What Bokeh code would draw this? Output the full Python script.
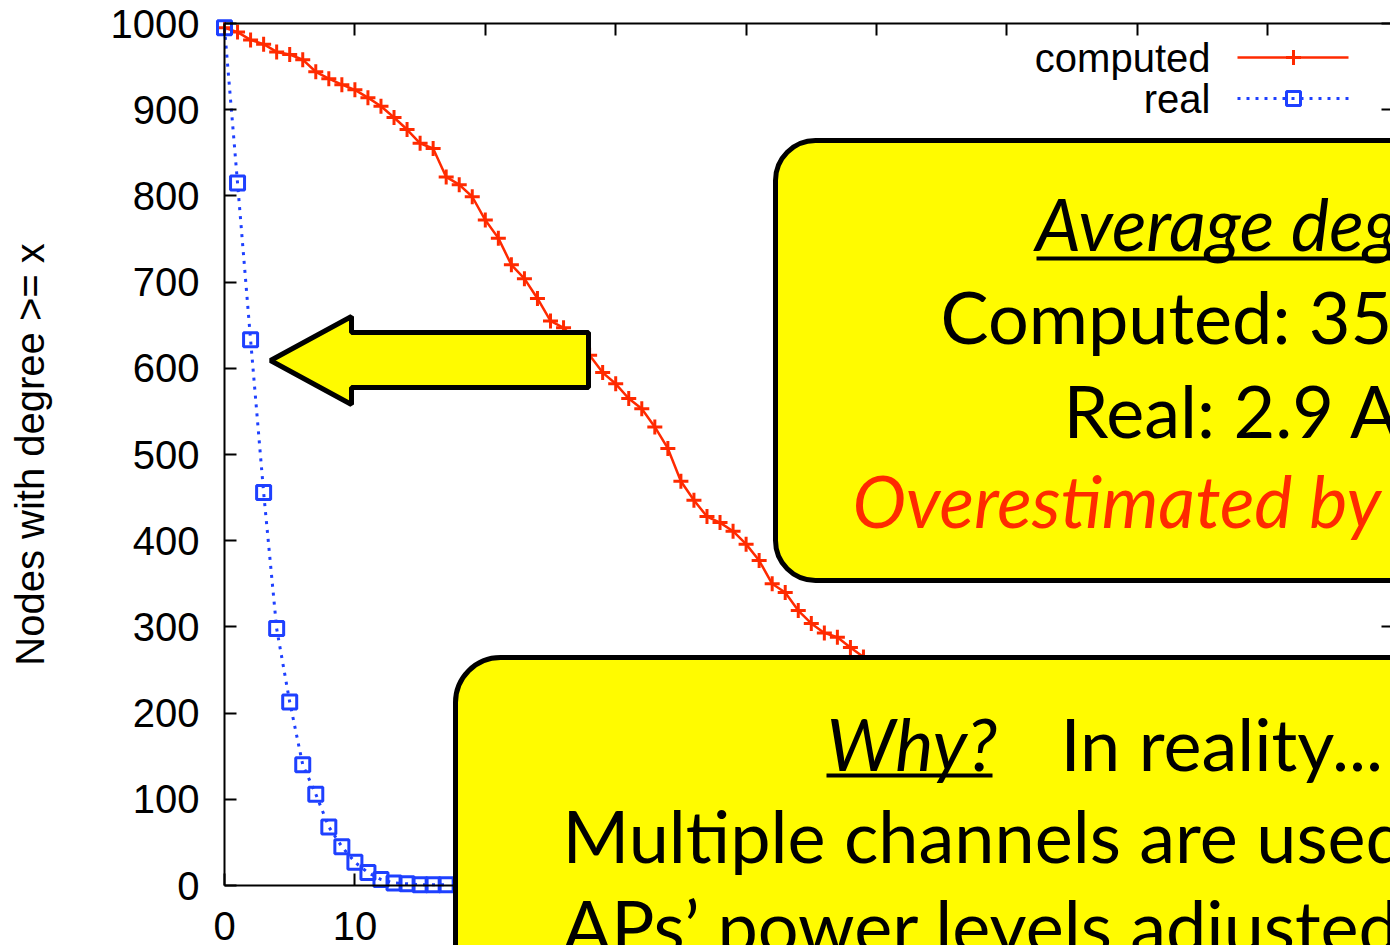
from bokeh.plotting import figure
from bokeh.models import Range1d, LinearAxis, BoxAnnotation, PolyAnnotation, Label, FixedTicker
from bokeh.embed import file_html
from bokeh.resources import INLINE

# ---------------- data ----------------
degree_computed = list(range(0, 50))
nodes_computed = [995, 990, 981, 976, 967, 964, 958, 944, 936, 929,
                  923, 914, 904, 891, 877, 861, 855, 822, 813, 799,
                  772, 751, 720, 704, 681, 655, 647, 632, 615, 595,
                  582, 565, 553, 532, 507, 469, 447, 428, 421, 411,
                  396, 377, 350, 340, 319, 304, 293, 288, 276, 265]
degree_real = list(range(0, 18))
nodes_real = [995, 815, 633, 456, 298, 213, 140, 106, 68, 45,
              27, 15, 7, 3, 2, 1, 1, 1]
x_ticks = [0, 10, 20, 30, 40, 50, 60, 70, 80, 90]
y_ticks = [0, 100, 200, 300, 400, 500, 600, 700, 800, 900, 1000]
series_names = ["computed", "real"]
y_label = "Nodes with degree >= x"

RED = "#FF2A00"
BLUE = "#1E40FF"
YELLOW = "#FFFB00"

# pixel geometry of the plot area on the canvas
W, H = 1390, 945
FL, FT, FB = 224, 23, 885          # axis left / top / bottom in pixels
PX_PER_X = 13.04                   # pixels per degree unit
PX_PER_Y = (FB - FT) / 1000.0      # pixels per node


def dx(px):
    return (px - FL) / PX_PER_X


def dy(py):
    return (FB - py) / PX_PER_Y


p = figure(width=W, height=H, output_backend="svg", toolbar_location=None,
           x_range=Range1d(dx(0), dx(W)), y_range=Range1d(dy(H), dy(0)),
           min_border=0, min_border_left=0, min_border_right=0,
           min_border_top=0, min_border_bottom=0)
p.grid.visible = False
p.outline_line_color = None
p.background_fill_color = "white"
p.border_fill_color = "white"

AX_FONT = "Liberation Sans"
# left axis
ya = p.yaxis[0]
ya.fixed_location = 0
ya.bounds = (0, 1000)
ya.ticker = FixedTicker(ticks=y_ticks)
ya.major_label_text_font = AX_FONT
ya.major_label_text_font_size = "40px"
ya.major_label_text_color = "black"
ya.major_tick_in = 12
ya.major_tick_out = 0
ya.major_label_standoff = 25
ya.minor_tick_line_color = None
ya.axis_line_width = 2
ya.major_tick_line_width = 2
ya.axis_label = y_label
ya.axis_label_text_font = AX_FONT
ya.axis_label_text_font_size = "40px"
ya.axis_label_text_font_style = "normal"
ya.axis_label_text_color = "black"
ya.axis_label_standoff = 56

# bottom axis
xa = p.xaxis[0]
xa.fixed_location = 0
xa.bounds = (0, dx(W + 20))
xa.ticker = FixedTicker(ticks=x_ticks)
xa.major_label_text_font = AX_FONT
xa.major_label_text_font_size = "40px"
xa.major_label_text_color = "black"
xa.major_label_standoff = 26
xa.major_tick_in = 12
xa.major_tick_out = 0
xa.minor_tick_line_color = None
xa.axis_line_width = 2
xa.major_tick_line_width = 2

top = LinearAxis(ticker=FixedTicker(ticks=x_ticks), fixed_location=1000,
                 bounds=(0, dx(W + 20)),
                 major_label_overrides={v: "" for v in x_ticks},
                 major_label_standoff=0, major_tick_in=12, major_tick_out=0,
                 minor_tick_line_color=None, axis_line_width=2, major_tick_line_width=2)
p.add_layout(top, "above")

right = LinearAxis(ticker=FixedTicker(ticks=y_ticks), fixed_location=dx(1393),
                   bounds=(0, 1000),
                   major_label_overrides={v: "" for v in y_ticks},
                   major_label_standoff=0, major_tick_in=12, major_tick_out=0,
                   minor_tick_line_color=None, axis_line_width=2, major_tick_line_width=2)
p.add_layout(right, "right")

# ---------------- series ----------------
p.line(degree_computed, nodes_computed, line_color=RED, line_width=2.5)
p.scatter(degree_computed, nodes_computed, marker="cross", size=15,
          line_color=RED, line_width=3)
p.line(degree_real, nodes_real, line_color=BLUE, line_width=3, line_dash="3 6")
p.scatter(degree_real, nodes_real, marker="square", size=14, fill_color=None,
          line_color=BLUE, line_width=3)

# legend (gnuplot style: label left, sample right)
LEG_MID = 0.3465 * 40
for i, (name, col) in enumerate(zip(series_names, [RED, BLUE])):
    ly = 57 + 41 * i
    p.add_layout(Label(x=dx(1210), y=dy(ly + 14 - LEG_MID), text=name, text_font=AX_FONT,
                       text_font_size="40px", text_align="right",
                       text_baseline="middle", text_color="black"))
    if i == 0:
        p.segment(x0=[dx(1237)], y0=[dy(ly)], x1=[dx(1348)], y1=[dy(ly)],
                  line_color=col, line_width=2.5)
        p.scatter([dx(1293)], [dy(ly)], marker="cross", size=15, line_color=col, line_width=3)
    else:
        p.segment(x0=[dx(1237)], y0=[dy(ly)], x1=[dx(1348)], y1=[dy(ly)],
                  line_color=col, line_width=3, line_dash="3 6")
        p.scatter([dx(1293)], [dy(ly)], marker="square", size=14, fill_color=None,
                  line_color=col, line_width=3)

# ---------------- slide overlays ----------------
ax = [270, 351, 351, 588, 588, 351, 351]
ay = [360, 316, 332, 332, 387, 387, 404]
p.add_layout(PolyAnnotation(xs=[dx(v) for v in ax], ys=[dy(v) for v in ay],
                            fill_color=YELLOW, fill_alpha=1, line_color="black",
                            line_width=5, line_alpha=1))

BIG = "Lato"
SZ = 72
MID = 0.387 * SZ   # baseline -> middle of the text box

p.add_layout(BoxAnnotation(left=dx(775), right=dx(1600), top=dy(140), bottom=dy(580),
                           fill_color=YELLOW, fill_alpha=1, line_color="black",
                           line_width=5, line_alpha=1, border_radius=40))
p.add_layout(BoxAnnotation(left=dx(1036), right=dx(1600), top=dy(256), bottom=dy(260),
                           fill_color="black", fill_alpha=1, line_color=None))
upper = [("Average deg", 1035, 250, "italic", "black"),
         ("Computed: 35", 940, 343, "normal", "black"),
         ("Real: 2.9 A", 1063, 437, "normal", "black"),
         ("Overestimated by", 852, 527, "italic", RED)]
for t, lx, by, st, col in upper:
    p.add_layout(Label(x=dx(lx), y=dy(by - MID), text=t, text_font=BIG,
                       text_font_size=f"{SZ}px", text_font_style=st, text_color=col,
                       text_align="left", text_baseline="middle"))

p.add_layout(BoxAnnotation(left=dx(455), right=dx(1600), top=dy(657), bottom=dy(1100),
                           fill_color=YELLOW, fill_alpha=1, line_color="black",
                           line_width=5, line_alpha=1, border_radius=45))
p.add_layout(BoxAnnotation(left=dx(826), right=dx(992), top=dy(773), bottom=dy(777),
                           fill_color="black", fill_alpha=1, line_color=None))
lower = [("Why?", 826, 770, "italic"),
         ("In reality...", 1060, 770, "normal"),
         ("Multiple channels are used", 562, 862, "normal"),
         ("APs\u2019 power levels adjusted", 562, 952, "normal")]
for t, lx, by, st in lower:
    p.add_layout(Label(x=dx(lx), y=dy(by - MID), text=t, text_font=BIG,
                       text_font_size=f"{SZ}px", text_font_style=st, text_color="black",
                       text_align="left", text_baseline="middle"))

open("out.html", "w").write(file_html(p, INLINE))
